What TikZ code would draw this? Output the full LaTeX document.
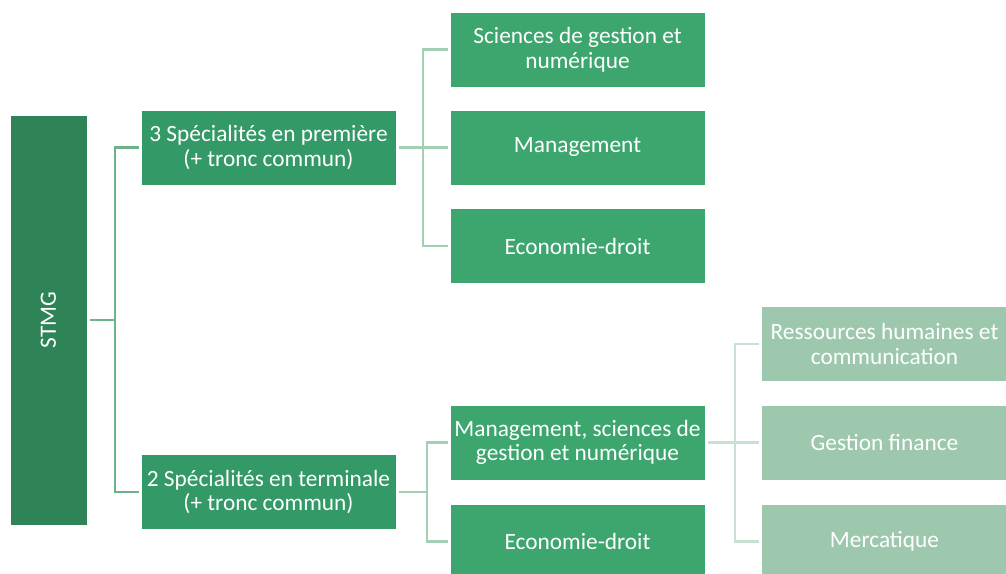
\documentclass[tikz,border=0pt]{standalone}
\usepackage{fontspec}
\setmainfont{Carlito}
\definecolor{cA}{HTML}{2E8456}
\definecolor{cB}{HTML}{339966}
\definecolor{cC}{HTML}{3DA66F}
\definecolor{cD}{HTML}{9DC8AD}
\definecolor{lA}{HTML}{6DB38A}
\definecolor{lB}{HTML}{A3CFB4}
\definecolor{lC}{HTML}{C8E2D2}
\tikzset{
  x=0.75pt, y=-0.75pt,
  box/.style={rectangle, draw=white, line width=0.6pt, text=white, align=center, inner sep=0pt,
    font=\fontsize{17.5}{18.5}\selectfont},
  stmgbox/.style={box, fill=cA, minimum width=77*0.75pt, minimum height=410*0.75pt},
  lvtwo/.style={box, fill=cB, minimum width=255*0.75pt, minimum height=75*0.75pt},
  lvthree/.style={box, fill=cC, minimum width=255*0.75pt, minimum height=75*0.75pt},
  lvfour/.style={box, fill=cD, minimum width=247*0.75pt, minimum height=75*0.75pt},
  conA/.style={draw=lA, line width=2.2pt},
  conB/.style={draw=lB, line width=2.2pt},
  conC/.style={draw=lC, line width=2.2pt},
}
\begin{document}
\begin{tikzpicture}
\useasboundingbox (0,0) rectangle (1006,574);
\clip (0,0) rectangle (1006,574);
\fill[white] (0,0) rectangle (1006,574);

\node[stmgbox] (stmg) at (48.5,320) {\rotatebox{90}{STMG}};
\node[lvtwo] (pre) at (268.5,147.5) {3 Spécialités en première\\(+ tronc commun)};
\node[lvtwo] (ter) at (268.5,492) {2 Spécialités en terminale\\(+ tronc commun)};

\node[lvthree] (sgn) at (577.5,49.5) {Sciences de gestion et\\numérique};
\node[lvthree] (man) at (577.5,147.5) {Management};
\node[lvthree] (eco) at (577.5,246) {Economie-droit};

\node[lvthree] (msg) at (577.5,442.5) {Management, sciences de\\gestion et numérique};
\node[lvthree] (eco2) at (577.5,541.5) {Economie-droit};

\node[lvfour] (rhc) at (884.5,344) {Ressources humaines et\\communication};
\node[lvfour] (gfi) at (884.5,442.5) {Gestion finance};
\node[lvfour] (mer) at (884.5,541.5) {Mercatique};

\coordinate (b1) at (115,320);
\coordinate (b2) at (423,147.5);
\coordinate (b3) at (427,492);
\coordinate (b4) at (735,442.5);

\draw[conA] ([xshift=2pt]stmg.east) -- (b1);
\draw[conA] ([xshift=-1pt]pre.west) -| (b1) |- ([xshift=-1pt]ter.west);

\draw[conB] ([xshift=2pt]pre.east) -- (b2);
\draw[conB] ([xshift=-1pt]sgn.west) -| (b2) |- ([xshift=-1pt]eco.west);
\draw[conB] (b2) -- ([xshift=-1pt]man.west);

\draw[conB] ([xshift=2pt]ter.east) -- (b3);
\draw[conB] ([xshift=-1pt]msg.west) -| (b3) |- ([xshift=-1pt]eco2.west);

\draw[conC] ([xshift=2pt]msg.east) -- (b4);
\draw[conC] ([xshift=-1pt]rhc.west) -| (b4) |- ([xshift=-1pt]mer.west);
\draw[conC] (b4) -- ([xshift=-1pt]gfi.west);
\end{tikzpicture}
\end{document}
